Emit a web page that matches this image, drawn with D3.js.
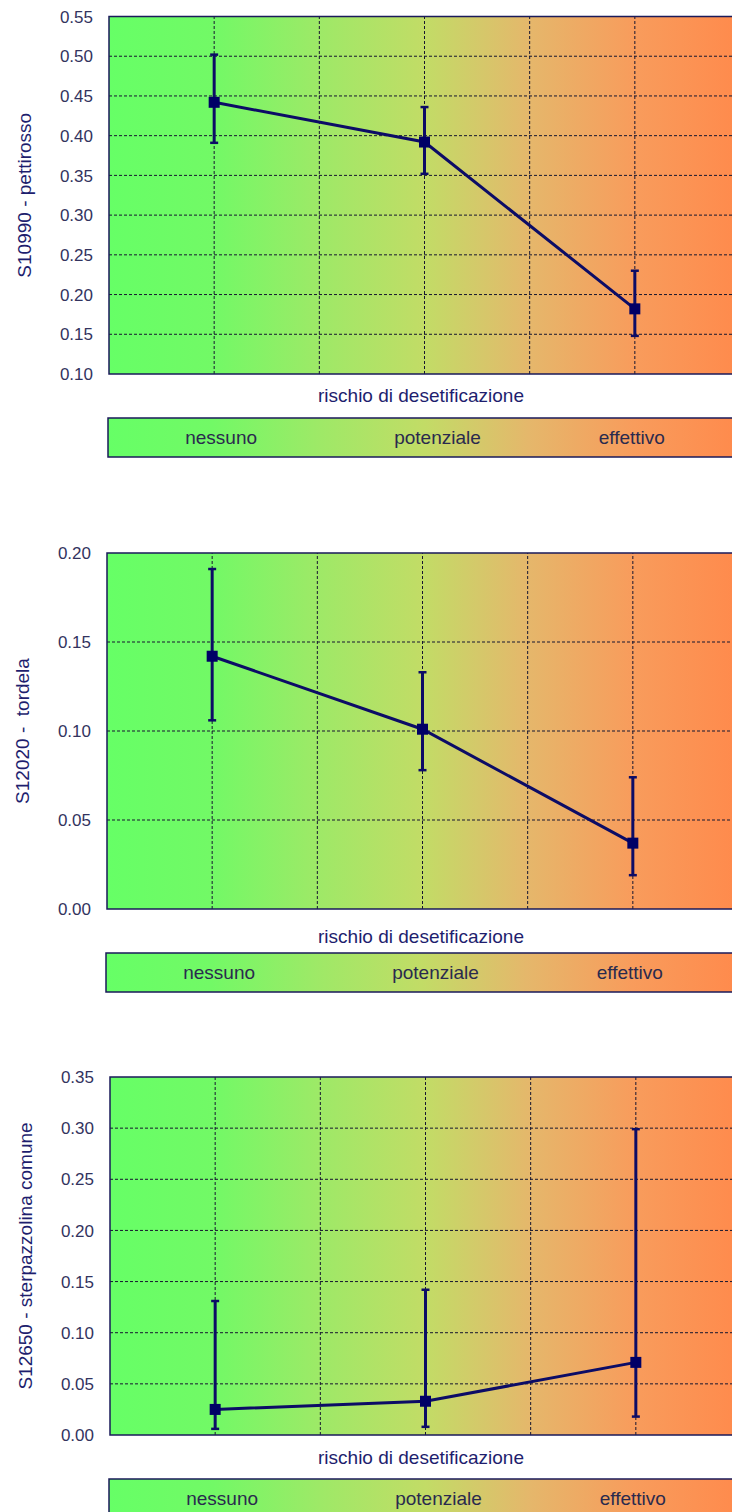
<!DOCTYPE html>
<html><head><meta charset="utf-8">
<script src="https://cdn.jsdelivr.net/npm/d3@7"></script>
<style>
html,body{margin:0;padding:0;background:#fff;}
svg{display:block;font-family:"Liberation Sans",Arial,sans-serif;}
</style></head>
<body>
<svg id="chart" width="732" height="1512"></svg>
<script>
// ---- data ----
const categories = ["nessuno", "potenziale", "effettivo"];
const categoryPos = [1, 3, 5];
const xLabel = "rischio di desetificazione";

const titles = ["S10990 - pettirosso", "S12020 -  tordela", "S12650 - sterpazzolina comune"];

const means1 = [0.442, 0.392, 0.182];
const lower1 = [0.391, 0.352, 0.148];
const upper1 = [0.502, 0.436, 0.230];

const means2 = [0.142, 0.101, 0.037];
const lower2 = [0.106, 0.078, 0.019];
const upper2 = [0.191, 0.133, 0.074];

const means3 = [0.025, 0.033, 0.071];
const lower3 = [0.006, 0.008, 0.018];
const upper3 = [0.131, 0.142, 0.299];

const yDomains = [[0.10, 0.55], [0.00, 0.20], [0.00, 0.35]];
const yTicks1 = [0.10, 0.15, 0.20, 0.25, 0.30, 0.35, 0.40, 0.45, 0.50, 0.55];
const yTicks2 = [0.00, 0.05, 0.10, 0.15, 0.20];
const yTicks3 = [0.00, 0.05, 0.10, 0.15, 0.20, 0.25, 0.30, 0.35];

// ---- layout ----
const panels = [
  {left: 109, top: 16.5, bottom: 374, labelOff: 28, means: means1, lo: lower1, hi: upper1, dom: yDomains[0], ticks: yTicks1, title: titles[0]},
  {left: 107, top: 553, bottom: 909, labelOff: 34, means: means2, lo: lower2, hi: upper2, dom: yDomains[1], ticks: yTicks2, title: titles[1]},
  {left: 110, top: 1077, bottom: 1435, labelOff: 29, means: means3, lo: lower3, hi: upper3, dom: yDomains[2], ticks: yTicks3, title: titles[2]}
];
const plotWidth = 631;
const legendOffsets = [7, 13, -3];

const svg = d3.select("#chart");
const defs = svg.append("defs");
const stops = [
  [0, "#66ff66"], [0.165, "#72f966"], [0.334, "#9ee967"], [0.5, "#c2dc66"],
  [0.59, "#d5c86a"], [0.666, "#e5b76b"], [0.832, "#f89c5c"], [1, "#ff8a4c"]
];
const grad = defs.append("linearGradient").attr("id", "bg")
  .attr("x1", "0%").attr("x2", "100%").attr("y1", "0%").attr("y2", "0%");
stops.forEach(s => grad.append("stop").attr("offset", s[0]).attr("stop-color", s[1]));

const navy = "#0c0c66";
const tickColor = "#33335e";
const titleColor = "#1e1e6e";

panels.forEach(p => {
  const x = d3.scaleLinear().domain([0, 6]).range([p.left, p.left + plotWidth]);
  const y = d3.scaleLinear().domain(p.dom).range([p.bottom, p.top]);
  const g = svg.append("g");

  // background
  g.append("rect").attr("x", x(0)).attr("y", y(p.dom[1]))
    .attr("width", x(6) - x(0)).attr("height", y(p.dom[0]) - y(p.dom[1]))
    .attr("fill", "url(#bg)");

  // horizontal gridlines
  g.selectAll(".hg").data(p.ticks.slice(1, -1)).join("line")
    .attr("x1", x(0)).attr("x2", x(6))
    .attr("y1", d => y(d)).attr("y2", d => y(d))
    .attr("stroke", "#161630").attr("stroke-width", 1).attr("stroke-dasharray", "3,2");
  // vertical gridlines
  g.selectAll(".vg").data([1, 2, 3, 4, 5]).join("line")
    .attr("x1", d => x(d)).attr("x2", d => x(d))
    .attr("y1", y(p.dom[0])).attr("y2", y(p.dom[1]))
    .attr("stroke", "#161630").attr("stroke-width", 1).attr("stroke-dasharray", "3,2");

  // border
  g.append("rect").attr("x", x(0)).attr("y", y(p.dom[1]))
    .attr("width", x(6) - x(0)).attr("height", y(p.dom[0]) - y(p.dom[1]))
    .attr("fill", "none").attr("stroke", "#1a1a5a").attr("stroke-width", 1.5);

  // y tick labels
  g.selectAll(".yt").data(p.ticks).join("text")
    .attr("x", p.left - 16).attr("y", d => y(d)).attr("dy", "0.36em")
    .attr("text-anchor", "end").attr("font-size", 17).attr("fill", tickColor)
    .text(d => d3.format(".2f")(d));

  // y title
  g.append("text")
    .attr("transform", `translate(${p.left - 78},${(p.top + p.bottom) / 2}) rotate(-90)`)
    .attr("text-anchor", "middle").attr("font-size", 19).attr("fill", titleColor)
    .style("white-space", "pre").attr("xml:space", "preserve")
    .text(p.title);

  // error bars
  const data = categories.map((c, i) => ({c, x: categoryPos[i], m: p.means[i], lo: p.lo[i], hi: p.hi[i]}));
  g.selectAll(".eb").data(data).join("line")
    .attr("x1", d => x(d.x)).attr("x2", d => x(d.x))
    .attr("y1", d => y(d.lo)).attr("y2", d => y(d.hi))
    .attr("stroke", navy).attr("stroke-width", 3);
  ["lo", "hi"].forEach(k => {
    g.selectAll(".cap" + k).data(data).join("line")
      .attr("x1", d => x(d.x) - 4).attr("x2", d => x(d.x) + 4)
      .attr("y1", d => y(d[k])).attr("y2", d => y(d[k]))
      .attr("stroke", navy).attr("stroke-width", 2.5);
  });

  // line
  g.append("path").datum(data)
    .attr("d", d3.line().x(d => x(d.x)).y(d => y(d.m)))
    .attr("fill", "none").attr("stroke", navy).attr("stroke-width", 3);

  // markers
  g.selectAll(".mk").data(data).join("rect")
    .attr("x", d => x(d.x) - 5.5).attr("y", d => y(d.m) - 5.5)
    .attr("width", 11).attr("height", 11).attr("fill", "#000066");

  // x label
  g.append("text").attr("x", 421).attr("y", p.bottom + p.labelOff)
    .attr("text-anchor", "middle").attr("font-size", 19).attr("fill", titleColor)
    .text(xLabel);

  // legend box
  const lt = p.bottom + 44, lh = 39;
  g.append("rect").attr("x", x(0) - 1).attr("y", lt)
    .attr("width", x(6) - x(0) + 1).attr("height", lh)
    .attr("fill", "url(#bg)").attr("stroke", "#1a1a5a").attr("stroke-width", 1.5);
  g.selectAll(".lg").data(data).join("text")
    .attr("x", (d, i) => x(d.x) + legendOffsets[i]).attr("y", lt + lh / 2).attr("dy", "0.36em")
    .attr("text-anchor", "middle").attr("font-size", 19).attr("fill", "#2a2a4e")
    .text(d => d.c);
});
</script>
</body></html>
